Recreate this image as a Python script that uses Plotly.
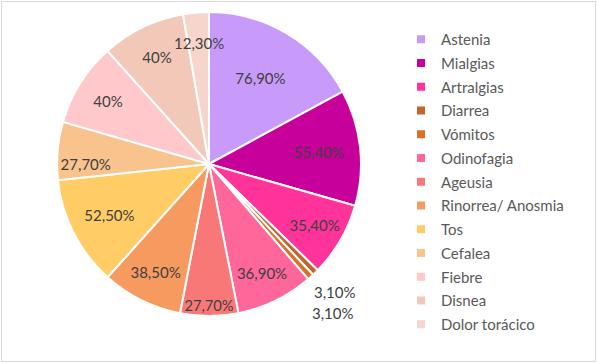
import math
import plotly.graph_objects as go

categories = ["Astenia", "Mialgias", "Artralgias", "Diarrea", "Vómitos", "Odinofagia",
              "Ageusia", "Rinorrea/ Anosmia", "Tos", "Cefalea", "Fiebre", "Disnea",
              "Dolor torácico"]
values = [76.9, 55.4, 35.4, 3.1, 3.1, 36.9, 27.7, 38.5, 52.5, 27.7, 40, 40, 12.3]
labels_text = ["76,90%", "55,40%", "35,40%", "3,10%", "3,10%", "36,90%", "27,70%",
               "38,50%", "52,50%", "27,70%", "40%", "40%", "12,30%"]
colors = ["#C89BFB", "#C8009B", "#FF3399", "#C0652B", "#D9702A", "#FF6699", "#F87878",
          "#F79A60", "#FFCC66", "#F9C38E", "#FFC9CC", "#F2C9B9", "#F5D5CC"]

W, H = 597, 363
CX, CY, R = 209, 164, 152
FONT = "Lato, Open Sans, sans-serif"

# labels not drawn inside their slice: radius factor from the centre
label_radius = {3: 1.18, 12: 0.80}
stacked_below = {4: 3}  # Vómitos label stacked below the Diarrea label

hidden = set(label_radius) | set(stacked_below)
positions = ["none" if i in hidden else "inside" for i in range(len(values))]

fig = go.Figure()
fig.add_trace(go.Pie(
    labels=categories, values=values, text=labels_text, textinfo="text",
    textposition=positions, insidetextorientation="horizontal",
    sort=False, direction="clockwise", rotation=0,
    marker=dict(colors=colors, line=dict(color="white", width=2)),
    textfont=dict(family=FONT, size=15, color="#404040"),
    showlegend=False, hoverinfo="label+text",
    domain=dict(x=[(CX - R) / W, (CX + R) / W], y=[1 - (CY + R) / H, 1 - (CY - R) / H]),
))

total = sum(values)
cum = 0
pos = {}
for i, v in enumerate(values):
    mid = (cum + v / 2) / total * 2 * math.pi
    cum += v
    if i in label_radius:
        r = label_radius[i] * R
        pos[i] = (CX + r * math.sin(mid), CY - r * math.cos(mid))
for i, ref in stacked_below.items():
    pos[i] = (pos[ref][0] - 2, pos[ref][1] + 21)

annotations = [dict(
    x=px / W, y=1 - py / H, xref="paper", yref="paper",
    text=labels_text[i], showarrow=False, xanchor="center", yanchor="middle",
    font=dict(family=FONT, size=15, color="#404040"),
) for i, (px, py) in pos.items()]

for cat, col in zip(categories, colors):
    fig.add_trace(go.Scatter(
        x=[None], y=[None], mode="markers", name=cat, legendgroup=cat,
        marker=dict(symbol="square", size=8, color=col), showlegend=True,
    ))

fig.update_layout(
    width=W, height=H,
    margin=dict(l=0, r=0, t=0, b=0),
    paper_bgcolor="white", plot_bgcolor="white",
    xaxis=dict(visible=False), yaxis=dict(visible=False),
    legend=dict(
        x=401 / W, y=1 - 23 / H, xanchor="left", yanchor="top",
        font=dict(family=FONT, size=15, color="#595959"),
        tracegroupgap=1.25, bgcolor="rgba(0,0,0,0)",
    ),
    annotations=annotations,
    shapes=[dict(type="rect", xref="paper", yref="paper",
                 x0=1.5 / W, x1=595.5 / W, y0=1 - 361.5 / H, y1=1 - 1.5 / H,
                 line=dict(color="#D9D9D9", width=1))],
)

fig.write_html("out.html", config={"displayModeBar": False},
               post_script="document.body.style.margin='0';")
